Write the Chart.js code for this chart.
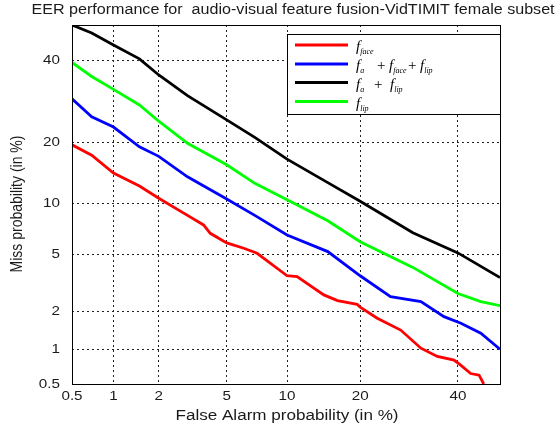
<!DOCTYPE html>
<html>
<head>
<meta charset="utf-8">
<script src="https://cdn.jsdelivr.net/npm/chart.js@4.4.1/dist/chart.umd.min.js"></script>
<style>
  html, body { margin: 0; padding: 0; background: #fff; }
</style>
</head>
<body>
<canvas id="det" width="558" height="432"></canvas>
<script>
// DET curve data (percent)
const tickValues = [0.5, 1, 2, 5, 10, 20, 40];
const tickLabels = ["0.5", "1", "2", "5", "10", "20", "40"];

const faAudioLip = [0.5, 0.7, 1, 1.5, 2, 3, 5, 7, 10, 15, 20, 30, 40, 50];
const missAudioLip = [50, 47.7, 44.3, 40.4, 36.0, 30.6, 24.8, 21.0, 16.8, 12.9, 10.3, 6.8, 5.1, 3.5];

const faLip = [0.5, 0.7, 1, 1.5, 2, 3, 5, 7, 10, 15, 20, 30, 40, 45.4, 50];
const missLip = [39.4, 35.6, 32.2, 28.3, 24.5, 19.8, 15.8, 12.8, 10.5, 8.0, 6.0, 4.1, 2.7, 2.36, 2.2];

const faAll = [0.5, 0.7, 1, 1.5, 2, 3, 5, 7, 10, 15, 20, 25.5, 31.7, 36.8, 40.7, 45.4, 50];
const missAll = [29.8, 25.5, 23.2, 19.1, 17.3, 13.8, 10.6, 8.6, 6.6, 5.2, 3.6, 2.56, 2.36, 1.82, 1.62, 1.35, 1.0];

const faFace = [0.5, 0.7, 1, 1.5, 2, 3, 3.72, 4.06, 5, 6.15, 7.19, 10, 11.1, 14.45, 16.4, 19.5, 20, 23, 27.5, 31.7, 35.3, 39.1, 40.5, 43, 45, 46.1];
const missFace = [19.5, 17.5, 14.4, 12.4, 10.7, 8.6, 7.57, 6.75, 5.9, 5.46, 5.07, 3.6, 3.55, 2.64, 2.4, 2.25, 2.15, 1.77, 1.43, 1.02, 0.87, 0.81, 0.74, 0.62, 0.6, 0.5];

// inverse normal CDF (normal deviate scale of a DET plot)
function probit(p) {
  const a = [-3.969683028665376e+01, 2.209460984245205e+02, -2.759285104469687e+02, 1.383577518672690e+02, -3.066479806614716e+01, 2.506628277459239e+00];
  const b = [-5.447609879822406e+01, 1.615858368580409e+02, -1.556989798598866e+02, 6.680131188771972e+01, -1.328068155288572e+01];
  const c = [-7.784894002430293e-03, -3.223964580411365e-01, -2.400758277161838e+00, -2.549671348451707e+00, 4.374664141464968e+00, 2.938163982698783e+00];
  const d = [7.784695709041462e-03, 3.224671290700398e-01, 2.445134137142996e+00, 3.754408661907416e+00];
  const pl = 0.02425;
  if (p < pl) {
    const q = Math.sqrt(-2 * Math.log(p));
    return (((((c[0]*q+c[1])*q+c[2])*q+c[3])*q+c[4])*q+c[5]) / ((((d[0]*q+d[1])*q+d[2])*q+d[3])*q+1);
  }
  if (p <= 1 - pl) {
    const q = p - 0.5, r = q * q;
    return (((((a[0]*r+a[1])*r+a[2])*r+a[3])*r+a[4])*r+a[5])*q / (((((b[0]*r+b[1])*r+b[2])*r+b[3])*r+b[4])*r+1);
  }
  const q = Math.sqrt(-2 * Math.log(1 - p));
  return -(((((c[0]*q+c[1])*q+c[2])*q+c[3])*q+c[4])*q+c[5]) / ((((d[0]*q+d[1])*q+d[2])*q+d[3])*q+1);
}
const dev = (pct) => probit(pct / 100);
const toPoints = (xs, ys) => xs.map((x, i) => ({ x: dev(x), y: dev(ys[i]) }));

const series = [
  { label: "f face", color: "#ff0000", x: faFace, y: missFace },
  { label: "f a + f face + f lip", color: "#0000ff", x: faAll, y: missAll },
  { label: "f a + f lip", color: "#000000", x: faAudioLip, y: missAudioLip },
  { label: "f lip", color: "#00ff00", x: faLip, y: missLip },
];

// legend entries: [text, subscript, x]
const legendParts = [
  [["f", "face", 356]],
  [["f", "a", 356], ["+", null, 377], ["f", "face", 389], ["+", null, 408], ["f", "lip", 420]],
  [["f", "a", 356], ["+", null, 374], ["f", "lip", 390]],
  [["f", "lip", 356]],
];

const SANS = "Arial, 'Liberation Sans', sans-serif";
const SERIF = "'Times New Roman', 'Liberation Serif', serif";

const detAxis = () => ({
  type: "linear",
  min: dev(0.5),
  max: 0,
  afterBuildTicks: (scale) => {
    scale.ticks = tickValues.map((v) => ({ value: dev(v) }));
  },
  ticks: { display: false, autoSkip: false },
  grid: { color: "#222", lineWidth: 1, drawTicks: false },
  border: { display: false, dash: [2, 3] },
});

const xAxis = detAxis();
xAxis.afterFit = (s) => { s.height = 48; };
const yAxis = detAxis();
yAxis.afterFit = (s) => { s.width = 72; };

function stretchText(ctx, text, x, y, sx) {
  ctx.save();
  ctx.translate(x, y);
  ctx.scale(sx, 1);
  ctx.fillText(text, 0, 0);
  ctx.restore();
}

const decorPlugin = {
  id: "decor",
  afterDraw(chart) {
    const { ctx, chartArea: a, scales } = chart;
    ctx.save();
    // frame
    ctx.strokeStyle = "#000";
    ctx.lineWidth = 1;
    ctx.strokeRect(a.left + 0.5, a.top + 0.5, a.right - a.left, a.bottom - a.top);

    // tick labels
    ctx.fillStyle = "#1a1a1a";
    ctx.font = "13px " + SANS;
    ctx.textBaseline = "middle";
    tickValues.forEach((v, i) => {
      ctx.textAlign = "center";
      stretchText(ctx, tickLabels[i], scales.x.getPixelForValue(dev(v)), 396, 1.17);
      ctx.textAlign = "right";
      stretchText(ctx, tickLabels[i], 60, scales.y.getPixelForValue(dev(v)), 1.17);
    });

    // title and axis titles
    ctx.font = "14px " + SANS;
    ctx.textAlign = "center";
    stretchText(ctx, "EER performance for  audio-visual feature fusion-VidTIMIT female subset", 293, 10, 1.15);
    stretchText(ctx, "False Alarm probability (in %)", 287, 416, 1.22);
    ctx.save();
    ctx.translate(18, 204);
    ctx.rotate(-Math.PI / 2);
    ctx.scale(1, 1.15);
    ctx.fillText("Miss probability (in %)", 0, 0);
    ctx.restore();

    // legend box
    const lx = 287, ly = 34, lw = 213, lh = 80;
    ctx.fillStyle = "#fff";
    ctx.fillRect(lx, ly, lw, lh);
    ctx.strokeStyle = "#000";
    ctx.strokeRect(lx + 0.5, ly + 0.5, lw, lh);
    const rows = [45, 64, 82.5, 101.5];
    series.forEach((s, i) => {
      const y = rows[i];
      ctx.strokeStyle = s.color;
      ctx.lineWidth = 3;
      ctx.beginPath();
      ctx.moveTo(295, y);
      ctx.lineTo(348, y);
      ctx.stroke();
      ctx.fillStyle = "#000";
      ctx.textAlign = "left";
      ctx.textBaseline = "alphabetic";
      legendParts[i].forEach(([main, sub, x]) => {
        ctx.font = sub ? "italic 15px " + SERIF : "15px " + SERIF;
        ctx.fillText(main, x, y + 6);
        if (sub) {
          const w = ctx.measureText(main).width;
          ctx.font = "italic 8px " + SERIF;
          ctx.fillText(sub, x + w, y + 9);
        }
      });
    });
    ctx.restore();
  },
};

new Chart(document.getElementById("det"), {
  type: "line",
  data: {
    datasets: series.map((s) => ({
      label: s.label,
      data: toPoints(s.x, s.y),
      borderColor: s.color,
      backgroundColor: s.color,
      borderWidth: 2.8,
      pointRadius: 0,
      tension: 0,
      fill: false,
    })),
  },
  options: {
    responsive: false,
    animation: false,
    devicePixelRatio: 1,
    layout: { padding: { top: 25, right: 58, left: 0, bottom: 0 } },
    plugins: { legend: { display: false }, title: { display: false }, tooltip: { enabled: false } },
    scales: { x: xAxis, y: yAxis },
  },
  plugins: [decorPlugin],
});
</script>
</body>
</html>
